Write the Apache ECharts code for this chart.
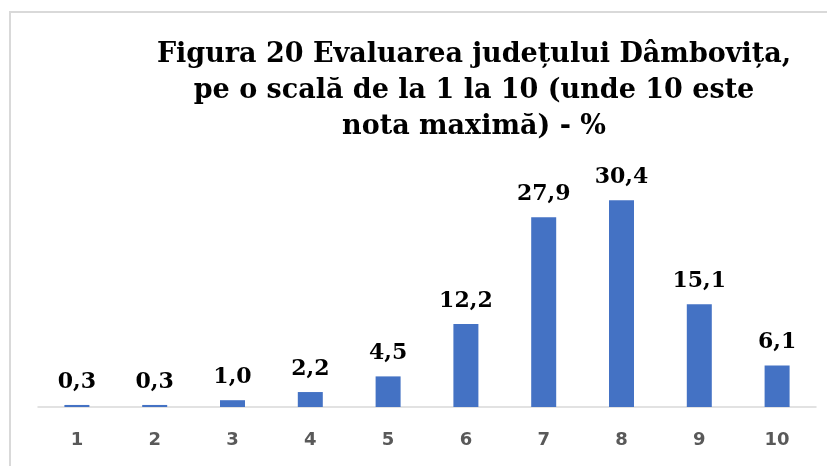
<!DOCTYPE html>
<html>
<head>
<meta charset="utf-8">
<script src="https://cdn.jsdelivr.net/npm/echarts@6/dist/echarts.min.js"></script>
<style>
  html, body { margin: 0; padding: 0; background: #fff; }
  #chart { width: 827px; height: 466px; }
</style>
</head>
<body>
<div id="chart"></div>
<script>
var categories = ['1', '2', '3', '4', '5', '6', '7', '8', '9', '10'];
var percentValues = [0.3, 0.3, 1.0, 2.2, 4.5, 12.2, 27.9, 30.4, 15.1, 6.1];
var titleText = 'Figura 20 Evaluarea județului Dâmbovița,\npe o scală de la 1 la 10 (unde 10 este\nnota maximă) - %';

var chartDom = document.getElementById('chart');
var myChart = echarts.init(chartDom);

var option = {
    animation: false,
    graphic: [
        {
            type: 'rect',
            shape: { x: 10, y: 12, width: 840, height: 480 },
            style: { fill: 'none', stroke: '#d9d9d9', lineWidth: 2 },
            silent: true
        }
    ],
    title: {
        text: titleText,
        left: 469,
        top: 32,
        textAlign: 'center',
        textStyle: {
            fontFamily: 'DejaVu Serif',
            fontWeight: 'bold',
            fontSize: 27,
            lineHeight: 36,
            color: '#000'
        }
    },
    grid: {
        left: 38,
        right: 11,
        top: 169,
        bottom: 59
    },
    xAxis: {
        type: 'category',
        data: categories,
        axisLine: { lineStyle: { color: '#d9d9d9', width: 1.5 } },
        axisTick: { show: false },
        axisLabel: {
            color: '#595959',
            fontFamily: 'DejaVu Sans',
            fontWeight: 'bold',
            fontSize: 18,
            margin: 24
        }
    },
    yAxis: {
        type: 'value',
        min: 0,
        max: 35,
        show: false,
        splitLine: { show: false }
    },
    series: [
        {
            type: 'bar',
            data: percentValues,
            barWidth: 25,
            itemStyle: { color: '#4472c4' },
            label: {
                show: true,
                position: 'top',
                distance: 12,
                color: '#000',
                fontFamily: 'DejaVu Serif',
                fontWeight: 'bold',
                fontSize: 22,
                formatter: function (p) {
                    return p.value.toFixed(1).replace('.', ',');
                }
            }
        }
    ]
};

myChart.setOption(option);
</script>
</body>
</html>
